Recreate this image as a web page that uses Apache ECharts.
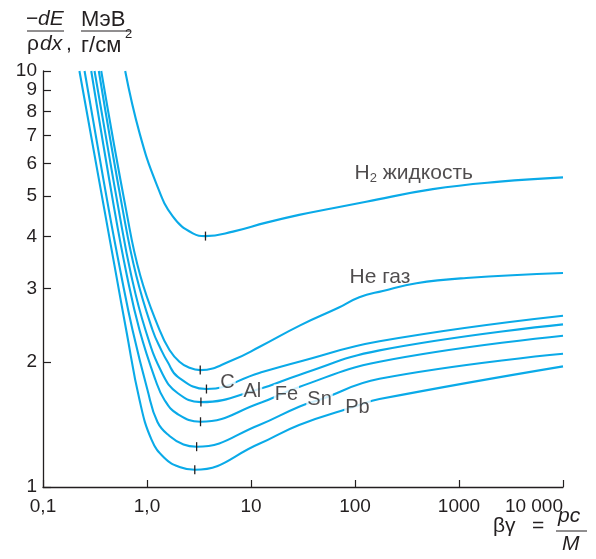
<!DOCTYPE html>
<html><head><meta charset="utf-8">
<script src="https://cdn.jsdelivr.net/npm/echarts@6/dist/echarts.min.js"></script>
<style>html,body{margin:0;padding:0;background:#fff}#c{width:596px;height:559px}</style>
</head><body><div id="c"></div>
<script>
// tick labels
const xTickLabels = ['0,1', '1,0', '10', '100', '1000', '10 000'];
const yTickValues = [1, 2, 3, 4, 5, 6, 7, 8, 9, 10];

// curves [βγ, -dE/ρdx]
const H2 = [[0.617,10],[0.847,7.1],[1.226,5.37],[1.77,4.47],[2.76,4.07],[3.65,4.01],[6.7,4.11],[14,4.32],[29,4.51],[61,4.68],[128,4.85],[560,5.2],[2460,5.42],[10000,5.55]];
const He = [[0.363,10],[0.63,4.63],[0.86,3.23],[1.319,2.385],[1.645,2.135],[2.05,2.0],[2.5,1.94],[3.25,1.91],[6.68,2.02],[12,2.17],[30,2.45],[70,2.7],[110,2.86],[185,2.96],[390,3.09],[1175,3.18],[10000,3.27]];
const C  = [[0.344,10],[0.585,4.63],[0.787,3.23],[1.13,2.385],[1.37,2.135],[1.575,2.0],[1.98,1.84],[3.73,1.72],[12,1.88],[29,2.0],[172,2.24],[10000,2.58]];
const Al = [[0.313,10],[0.535,4.63],[0.705,3.23],[0.967,2.385],[1.41,1.87],[1.98,1.68],[3.3,1.6],[12,1.72],[29,1.86],[172,2.13],[10000,2.46]];
const Fe = [[0.291,10],[0.487,4.63],[0.64,3.23],[0.847,2.385],[1.207,1.808],[1.473,1.619],[1.965,1.498],[3.27,1.435],[12,1.59],[29,1.74],[172,2.0],[10000,2.31]];
const Sn = [[0.251,10],[0.43,4.63],[0.565,3.23],[0.726,2.385],[1.011,1.711],[1.261,1.433],[1.646,1.326],[2.243,1.265],[3.0,1.25],[12,1.41],[29,1.56],[45.6,1.62],[172,1.82],[10000,2.09]];
const Pb = [[0.224,10],[0.39,4.63],[0.506,3.23],[0.631,2.385],[0.847,1.62],[1.105,1.30],[1.473,1.174],[2.053,1.117],[2.88,1.10],[12,1.27],[29,1.41],[103,1.565],[172,1.627],[10000,1.95]];

// minimum markers [βγ, value]
const minima = {H2:[3.65,4.01], He:[3.25,1.91], C:[3.73,1.72], Al:[3.3,1.6], Fe:[3.27,1.435], Sn:[3.0,1.25], Pb:[2.88,1.10]};

// curve labels
const labelNames = ['H{sub|2} жидкость', 'He газ', 'C', 'Al', 'Fe', 'Sn', 'Pb'];
const labelAnchors = [[99,5.69],[88.5,3.2],[5.94,1.78],[10.3,1.70],[21.9,1.67],[45.6,1.62],[105.7,1.55]];

const curves = {H2, He, C, Al, Fe, Sn, Pb};
const LINE = '#0aaae8';
const INK = '#231f20';
const FONT = 'Liberation Sans';

const series = Object.keys(curves).map(k => ({
  type: 'line', name: k, data: curves[k], smooth: 0.45,
  showSymbol: false, symbol: 'none', z: 2,
  lineStyle: {color: LINE, width: 2.1},
  markPoint: {
    symbol: 'rect', symbolSize: [1.3, 9], silent: true, animation: false,
    itemStyle: {color: INK}, label: {show: false},
    data: [{coord: minima[k]}]
  }
}));

const labelSeries = {
  type: 'scatter', z: 5, symbolSize: 0, silent: true,
  data: labelNames.map((n, i) => ({value: labelAnchors[i], name: n})),
  label: {
    show: true, formatter: p => p.name, color: INK, fontFamily: FONT, fontSize: 20,
    position: 'inside',
    rich: {sub: {fontSize: 13, verticalAlign: 'bottom', padding: [11,0,0,0], color: INK, fontFamily: FONT}}
  }
};
labelSeries.data.forEach((d, i) => {
  if (i < 2) d.label = {position: 'right', distance: 0, fontSize: 21};
  else d.label = {backgroundColor: '#fff', padding: [0, 1]};
});
series.push(labelSeries);

const chart = echarts.init(document.getElementById('c'), null, {renderer: 'canvas'});
chart.setOption({
  animation: false,
  backgroundColor: '#fff',
  grid: {left: 43, right: 33, top: 71, bottom: 72},
  xAxis: {
    type: 'log', logBase: 10, min: 0.1, max: 10000,
    axisLine: {lineStyle: {color: INK, width: 1.3}},
    axisTick: {inside: true, length: 7, lineStyle: {color: INK, width: 1.2}},
    splitLine: {show: false},
    axisLabel: {color: INK, fontFamily: FONT, fontSize: 19, margin: 10, alignMaxLabel: 'right',
      formatter: v => xTickLabels[Math.round(Math.log10(v)) + 1]}
  },
  yAxis: {
    type: 'log', logBase: 10, min: 1, max: 10,
    axisLine: {show: true, lineStyle: {color: INK, width: 1.3}},
    axisTick: {show: true, inside: true, length: 8, customValues: yTickValues, lineStyle: {color: INK, width: 1.2}},
    splitLine: {show: false},
    axisLabel: {color: INK, fontFamily: FONT, fontSize: 19, margin: 6, customValues: yTickValues,
      formatter: v => String(Math.round(v))}
  },
  series,
  graphic: [
    {type: 'text', left: 26, top: 9, style: {text: '−', font: '21px "Liberation Sans"', fill: INK}},
    {type: 'text', left: 38, top: 9, style: {text: 'dE', font: 'italic 21px "Liberation Sans"', fill: INK}},
    {type: 'line', shape: {x1: 27, y1: 31, x2: 64, y2: 31}, style: {stroke: INK, lineWidth: 1}},
    {type: 'text', left: 27, top: 34, style: {text: 'ρ', font: '21px "Liberation Sans"', fill: INK}},
    {type: 'text', left: 40, top: 34, style: {text: 'dx', font: 'italic 21px "Liberation Sans"', fill: INK}},
    {type: 'text', left: 66, top: 34, style: {text: ',', font: '21px "Liberation Sans"', fill: INK}},
    {type: 'text', left: 81, top: 9, style: {text: 'МэВ', font: '22px "Liberation Sans"', fill: INK}},
    {type: 'line', shape: {x1: 81, y1: 31, x2: 131, y2: 31}, style: {stroke: INK, lineWidth: 1}},
    {type: 'text', left: 81, top: 35, style: {text: 'г/см', font: '22px "Liberation Sans"', fill: INK}},
    {type: 'text', left: 125, top: 28, style: {text: '2', font: '13px "Liberation Sans"', fill: INK}},
    {type: 'text', left: 493, top: 516, style: {text: 'βγ', font: '21px "Liberation Sans"', fill: INK}},
    {type: 'text', left: 532, top: 516, style: {text: '=', font: '21px "Liberation Sans"', fill: INK}},
    {type: 'text', left: 558, top: 506, style: {text: 'pc', font: 'italic 21px "Liberation Sans"', fill: INK}},
    {type: 'line', shape: {x1: 556, y1: 531, x2: 587, y2: 531}, style: {stroke: INK, lineWidth: 1}},
    {type: 'text', left: 562, top: 534, style: {text: 'M', font: 'italic 21px "Liberation Sans"', fill: INK}}
  ]
});
</script>
</body></html>
